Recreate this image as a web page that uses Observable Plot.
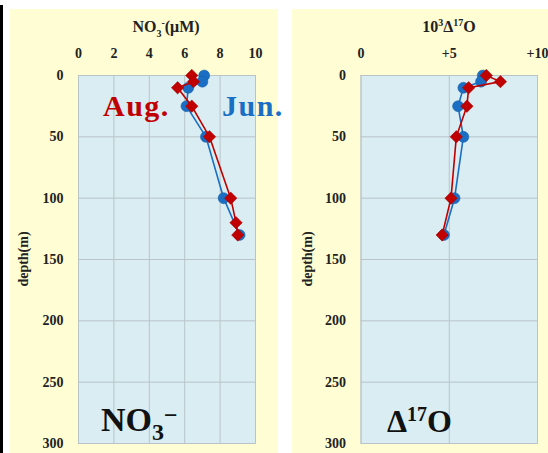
<!DOCTYPE html>
<html>
<head>
<meta charset="utf-8">
<script src="https://cdn.jsdelivr.net/npm/d3@7"></script>
<script src="https://cdn.jsdelivr.net/npm/@observablehq/plot@0.6"></script>
<style>
  html, body { margin: 0; padding: 0; background: #fff; }
  #wrap { position: relative; width: 548px; height: 453px; overflow: hidden; background: #fff;
          font-family: "Liberation Serif", "Times New Roman", serif; }
  .panel { position: absolute; top: 9px; height: 444px; background: #FFFDD3; }
  .panel svg { overflow: visible; position: absolute; left: 0; top: 0; }
  .txt { position: absolute; white-space: nowrap; font-weight: bold; line-height: 1; }
  .rot { transform: translate(-50%, -50%) rotate(-90deg); }
</style>
</head>
<body>
<div id="wrap">
  <div style="position:absolute;left:0;top:5px;width:3px;height:448px;background:#000"></div>
  <div class="panel" id="left" style="left:10px;width:268px;"></div>
  <div class="panel" id="right" style="left:292px;width:256px;"></div>
</div>
<script>
// ---- data ----
const no3DepthJun = [0, 5, 10, 25, 50, 100, 130];
const no3Jun      = [7.1, 7.0, 6.2, 6.1, 7.2, 8.2, 9.1];
const no3DepthAug = [0, 5, 10, 25, 50, 100, 120, 130];
const no3Aug      = [6.4, 6.5, 5.6, 6.4, 7.4, 8.6, 8.9, 9.0];

const d17DepthJun = [0, 5, 10, 25, 50, 100, 130];
const d17Jun      = [6.9, 6.8, 5.8, 5.5, 5.8, 5.3, 4.7];
const d17DepthAug = [0, 5, 10, 25, 50, 100, 130];
const d17Aug      = [7.1, 7.9, 6.1, 6.0, 5.4, 5.1, 4.6];

const depthTicks = [0, 50, 100, 150, 200, 250, 300];
const no3Ticks = [0, 2, 4, 6, 8, 10];
const d17Ticks = [0, 5, 10];
const d17TickLabels = ["0", "+5", "+10"];

const juneColor = "#1A6FC4";
const augColor = "#C00000";

function rows(xs, ys) { return xs.map((v, i) => ({v, d: ys[i]})); }

function panel(el, w, ml, mr, xDomain, xTicks, xFmt, jun, aug) {
  const chart = Plot.plot({
    width: w, height: 444,
    marginLeft: ml, marginRight: mr, marginTop: 66, marginBottom: 10,
    style: {background: "transparent", fontFamily: "Liberation Serif, serif", fontSize: "14px", fontWeight: "bold", color: "#222", overflow: "visible"},
    x: {domain: xDomain},
    y: {domain: [0, 300], reverse: true},
    marks: [
      Plot.frame({fill: "#DAEDF3", stroke: "#BFCBD0"}),
      Plot.axisX({anchor: "top", ticks: xTicks, tickFormat: xFmt, tickSize: 0, tickPadding: 18, label: null}),
      Plot.axisY({anchor: "left", ticks: depthTicks, tickSize: 0, tickPadding: 15, label: null}),
      Plot.tickX(xTicks, {x: d => d, y1: 0, y2: 3, stroke: "#b8c4c8"}),
      Plot.tickY(depthTicks, {y: d => d, x1: xDomain[0], x2: xDomain[0] + (xDomain[1]-xDomain[0]) * 0.02, stroke: "#b8c4c8"}),
      Plot.line(jun, {x: "v", y: "d", stroke: juneColor, strokeWidth: 1.6}),
      Plot.dot(jun, {x: "v", y: "d", r: 5.5, fill: juneColor, stroke: "#155a9e", strokeWidth: 0.5}),
      Plot.line(aug, {x: "v", y: "d", stroke: augColor, strokeWidth: 1.6}),
      Plot.dot(aug, {x: "v", y: "d", symbol: "diamond2", r: 5.6, fill: augColor, stroke: "#a00000", strokeWidth: 0.5})
    ]
  });
  el.appendChild(chart);
}

const L = document.getElementById("left");
const R = document.getElementById("right");
panel(L, 268, 68, 23, [0, 10], no3Ticks, d => String(d), rows(no3Jun, no3DepthJun), rows(no3Aug, no3DepthAug));
panel(R, 256, 68.5, 11, [0, 10], d17Ticks, (d, i) => d17TickLabels[d17Ticks.indexOf(d)], rows(d17Jun, d17DepthJun), rows(d17Aug, d17DepthAug));

function addText(parent, html, css, cls) {
  const d = document.createElement("div");
  d.className = "txt" + (cls ? " " + cls : "");
  d.innerHTML = html;
  d.style.cssText += css;
  parent.appendChild(d);
  return d;
}
// left panel texts (coordinates relative to panel)
addText(L, 'NO<sub style="font-size:10px">3</sub><sup style="font-size:10px">-</sup>(μM)', "left:156px;top:9px;transform:translateX(-50%);font-size:16px;color:#222;");
addText(L, 'depth(m)', "left:14px;top:250px;font-size:14px;color:#222;", "rot");
addText(L, 'Aug.', "left:93px;top:82px;font-size:30px;letter-spacing:1.5px;color:" + augColor + ";");
addText(L, 'Jun.', "left:212px;top:82px;font-size:30px;letter-spacing:1.5px;color:" + juneColor + ";");
addText(L, 'NO<span style="font-size:24px;position:relative;top:9px">3</span><span style="font-size:24px;position:relative;top:-8px">−</span>', "left:91px;top:394px;font-size:34px;color:#111;");
// right panel texts
addText(R, '10<sup style="font-size:10px">3</sup>Δ<sup style="font-size:10px">17</sup>O', "left:157px;top:9px;transform:translateX(-50%);font-size:16px;color:#222;");
addText(R, 'depth(m)', "left:16px;top:250px;font-size:14px;color:#222;", "rot");
addText(R, 'Δ<span style="font-size:20px;position:relative;top:-11px">17</span>O', "left:95px;top:396px;font-size:32px;color:#111;");
</script>
</body>
</html>
